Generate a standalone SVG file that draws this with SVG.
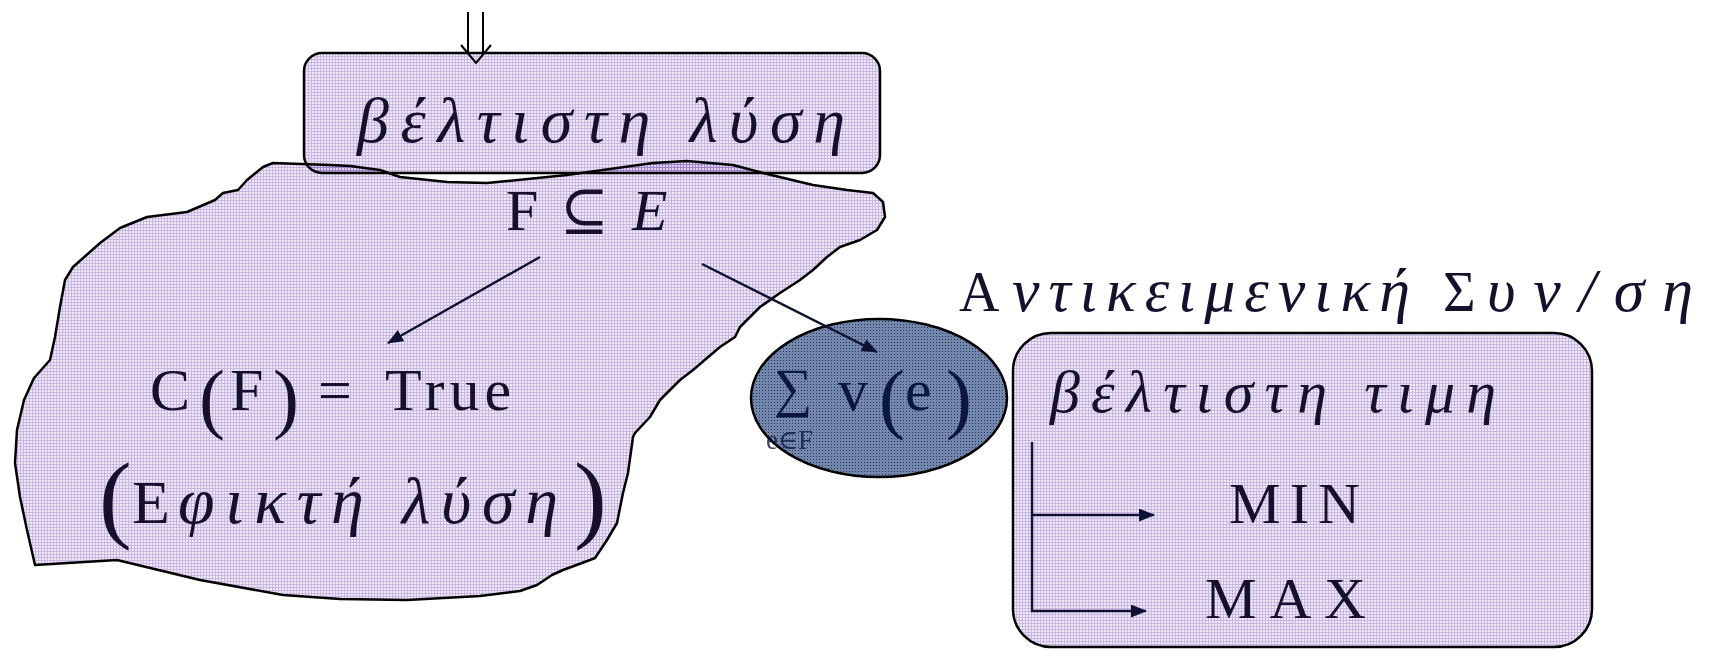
<svg xmlns="http://www.w3.org/2000/svg" width="1713" height="650" viewBox="0 0 1713 650">
<defs>
  <pattern id="lav" width="3" height="3" patternUnits="userSpaceOnUse">
    <rect width="3" height="3" fill="#c9b7e3"/>
    <rect width="2" height="2" fill="#efe9f8"/>
  </pattern>
  <pattern id="navy" width="3" height="3" patternUnits="userSpaceOnUse">
    <rect width="3" height="3" fill="#7487ad"/>
    <rect width="1" height="1" fill="#23335e"/>
  </pattern>
  <marker id="ah" viewBox="0 0 16 13" refX="15" refY="6.5" markerWidth="16" markerHeight="13" markerUnits="userSpaceOnUse" orient="auto">
    <path d="M0,0 L16,6.5 L0,13 z" fill="#0d1233"/>
  </marker>
  <style>
    text { font-family: "Liberation Serif", "DejaVu Serif", serif; fill: #16102c; }
    .it { font-style: italic; }
    .shape { fill: url(#lav); stroke: #000; stroke-width: 2.5; stroke-linejoin: round; }
    .conn { stroke: #0d1233; stroke-width: 2.4; fill: none; }
    .nv { fill: #0b1740; }
  </style>
</defs>

<g id="node-optimal-solution">
  <rect class="shape" x="304" y="53" width="576" height="120" rx="18"/>
  <text class="it" x="357" y="142" font-size="64" textLength="488" lengthAdjust="spacing">βέλτιστη λύση</text>
</g>

<g id="node-feasible-set">
  <path class="shape" style="mix-blend-mode:multiply" d="M273,163 L330,165 L350,166 L380,170 L400,177 L447,182 L487,183 L567,175 L653,163 L687,161 L733,165 L763,173 L813,185 L847,190 L873,193 L883,202 L885,217 L877,230 L860,240 L840,247 L827,257 L813,270 L800,280 L780,293 L760,307 L740,327 L735,337 L720,347 L693,370 L680,380 L660,400 L650,417 L635,433 L633,437 L628,473 L623,493 L617,523 L607,540 L595,558 L590,560 L563,570 L552,575 L537,585 L520,591 L480,596 L407,600 L340,599 L283,595 L200,580 L117,560 L35,565 L27,530 L20,497 L15,463 L17,430 L24,400 L34,378 L50,360 L55,337 L60,307 L65,280 L73,267 L100,243 L120,228 L147,217 L187,212 L215,200 L223,193 L238,190 L247,180 L263,167 Z"/>
  <text y="230" font-size="58"><tspan x="506">F</tspan><tspan x="560">⊆</tspan><tspan x="632" class="it">E</tspan></text>
  <text y="410" font-size="60"><tspan x="150">C</tspan><tspan x="199" y="424" font-size="78">(</tspan><tspan x="230" y="410">F</tspan><tspan x="273" y="424" font-size="78">)</tspan><tspan x="318" y="410">=</tspan><tspan x="385" letter-spacing="5">True</tspan></text>
  <text y="523" font-size="62"><tspan x="99" y="530" font-size="98">(</tspan><tspan x="132" y="523">Ε</tspan><tspan x="574" y="530" font-size="98">)</tspan></text>
  <text class="it" x="178" y="523" font-size="66" textLength="380" lengthAdjust="spacing">φικτή λύση</text>
</g>

<g id="node-objective-value">
  <ellipse cx="879" cy="398" rx="128" ry="79" fill="url(#navy)" stroke="#000" stroke-width="2.5"/>
  <text class="nv" x="774" y="406" font-size="54">∑</text>
  <text class="nv" y="410" font-size="60"><tspan x="838">v</tspan><tspan x="879" y="424" font-size="78">(</tspan><tspan x="905" y="410">e</tspan><tspan x="946" y="424" font-size="78">)</tspan></text>
  <text class="nv" x="766" y="449" font-size="27" fill-opacity="0.8">e∈F</text>
</g>

<g id="node-objective-function">
  <text y="311" font-size="56"><tspan x="959">Α</tspan><tspan x="1443">Σ</tspan></text>
  <text class="it" x="1012" y="311" font-size="62" textLength="398" lengthAdjust="spacing">ντικειμενική</text>
  <text class="it" x="1487" y="311" font-size="62" textLength="206" lengthAdjust="spacing">υν/ση</text>
  <rect class="shape" x="1013" y="333" width="579" height="314" rx="38"/>
  <text class="it" x="1050" y="412" font-size="60" textLength="446" lengthAdjust="spacing">βέλτιστη τιμη</text>
  <text x="1229" y="523" font-size="58" textLength="131" lengthAdjust="spacing">MIN</text>
  <text x="1205" y="618" font-size="58" textLength="161" lengthAdjust="spacing">MAX</text>
</g>

<g id="connectors">
  <g stroke="#000" stroke-width="2" fill="none">
    <line x1="468" y1="12" x2="468" y2="53"/>
    <line x1="483" y1="12" x2="483" y2="53"/>
    <polyline points="461,45 476,63 491,45"/>
  </g>
  <line class="conn" x1="540" y1="257" x2="388" y2="343" marker-end="url(#ah)"/>
  <line class="conn" x1="702" y1="264" x2="877" y2="352" marker-end="url(#ah)"/>
  <path class="conn" stroke-width="2.6" d="M1032,442 V611 H1146" marker-end="url(#ah)"/>
  <line class="conn" stroke-width="2.6" x1="1032" y1="515" x2="1154" y2="515" marker-end="url(#ah)"/>
</g>
</svg>
